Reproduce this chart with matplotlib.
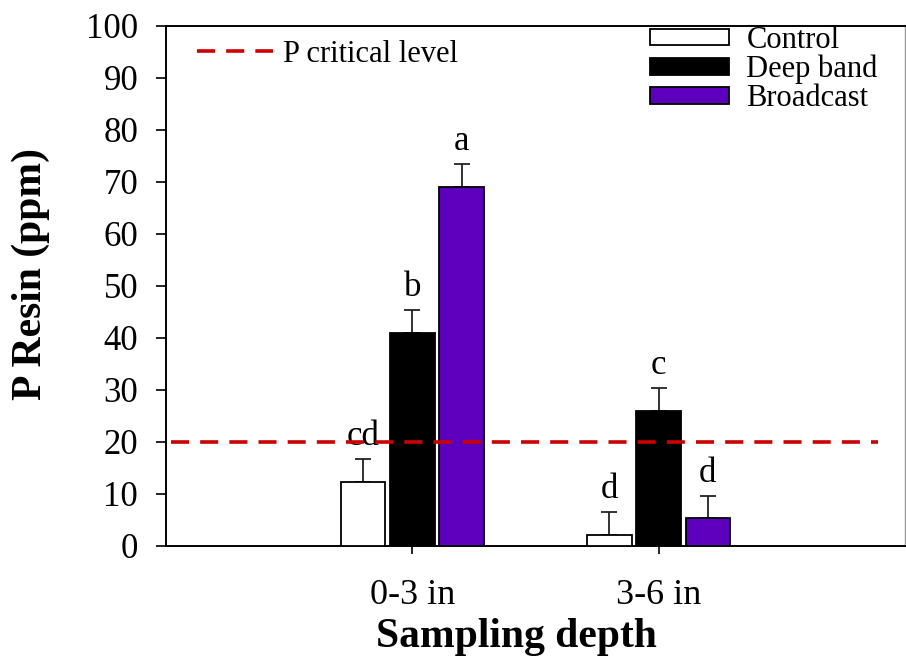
import matplotlib
matplotlib.use("Agg")
import matplotlib.pyplot as plt
import numpy as np
from matplotlib.patches import Patch
from matplotlib.lines import Line2D

depths = ["0-3 in", "3-6 in"]
treatments = ["Control", "Deep band", "Broadcast"]
values = {
    "Control": [12.4, 2.2],
    "Deep band": [41.0, 26.0],
    "Broadcast": [69.0, 5.3],
}
errors = {
    "Control": [4.3, 4.3],
    "Deep band": [4.3, 4.4],
    "Broadcast": [4.4, 4.3],
}
letters = {
    "Control": ["cd", "d"],
    "Deep band": ["b", "c"],
    "Broadcast": ["a", "d"],
}
critical_level = 20
colors = {"Control": "white", "Deep band": "black", "Broadcast": "#5C00BE"}

plt.rcParams['font.family'] = ['Liberation Serif', 'DejaVu Serif']

fig = plt.figure(figsize=(9.06, 6.66), dpi=100)
W, H = 906, 666
ax = fig.add_axes([166 / W, 1 - 546 / H, (905 - 166) / W, (546 - 26) / H])

x = np.arange(1, len(depths) + 1)
width = 0.18
offsets = [-0.2, 0.0, 0.2]

for t, off in zip(treatments, offsets):
    xs = x + off
    ax.bar(xs, values[t], width=width, color=colors[t], edgecolor='black',
           linewidth=1.3, zorder=3)
    ax.errorbar(xs, values[t], yerr=[np.zeros(len(xs)), errors[t]], fmt='none',
                ecolor='#222222', elinewidth=1.3, capsize=6, capthick=1.3, zorder=2)
    for xi, v, e, lab in zip(xs, values[t], errors[t], letters[t]):
        ax.text(xi, v + e + 2.7, lab, ha='center', va='baseline', fontsize=25)

lw = 2.6
crit, = ax.plot([0.02, 2.89], [critical_level, critical_level], color='#CC0000',
                linewidth=lw, linestyle=(0, (13 / lw, 8 / lw)), zorder=4)

ax.set_xlim(0, 3)
ax.set_ylim(0, 100)
ax.set_yticks(np.arange(0, 101, 10))
ax.set_xticks(x)
ax.set_xticklabels(depths)
ax.tick_params(axis='y', direction='out', length=7, width=1.2, labelsize=25, pad=13)
ax.tick_params(axis='x', direction='out', length=6, width=1.2, labelsize=26, pad=18)
for s in ['left', 'bottom', 'top']:
    ax.spines[s].set_linewidth(1.4)
ax.spines['right'].set_color('#999999')
ax.spines['right'].set_linewidth(1.0)

ax.set_ylabel("P Resin (ppm)", fontsize=30, fontweight='bold')
ax.yaxis.set_label_coords(-0.157, 0.523)
ax.set_xlabel("Sampling depth", fontsize=30, fontweight='bold')
ax.xaxis.set_label_coords(0.474, -0.138)

leg1 = fig.legend([Line2D([0], [0], color='#CC0000', linewidth=lw, linestyle=(0, (13 / lw, 8 / lw)))],
                  ["P critical level"], loc='center left',
                  bbox_to_anchor=(197 / W, 1 - 54 / H), frameon=False, fontsize=22,
                  handlelength=2.5, handletextpad=0.33, borderpad=0, borderaxespad=0)

handles = [Patch(facecolor=colors[t], edgecolor='black', linewidth=1.3) for t in treatments]
leg2 = fig.legend(handles, treatments, loc='upper left',
                  bbox_to_anchor=(650 / W, 1 - 26 / H), frameon=False, fontsize=22,
                  handlelength=2.6, handleheight=0.45, handletextpad=0.55,
                  labelspacing=0.0, borderpad=0, borderaxespad=0)

fig.savefig("out.png", dpi=100)
